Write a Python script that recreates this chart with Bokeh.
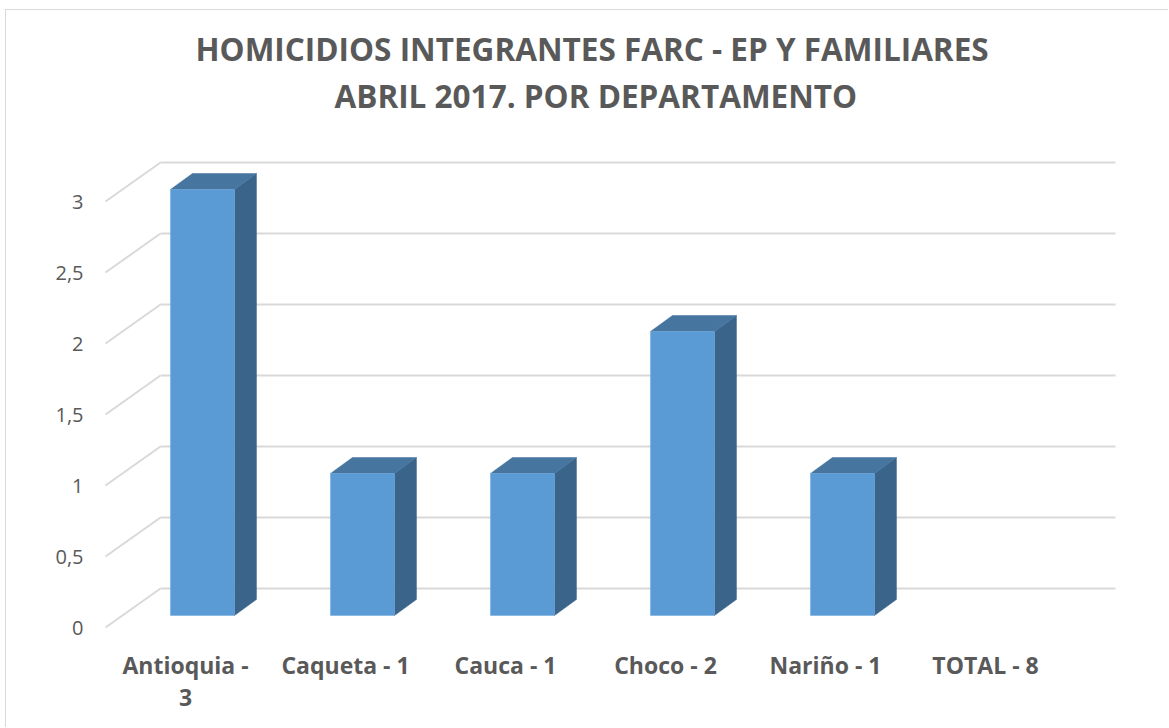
from bokeh.plotting import figure
from bokeh.models import FixedTicker, Title, ColumnDataSource
from bokeh.embed import file_html
from bokeh.resources import INLINE

# ---------------- data ----------------
categories = ["Antioquia - 3", "Caqueta - 1", "Cauca - 1", "Choco - 2", "Nariño - 1", "TOTAL - 8"]
category_labels = ["Antioquia -\n3", "Caqueta - 1", "Cauca - 1", "Choco - 2", "Nariño - 1", "TOTAL - 8"]
values = [3, 1, 1, 2, 1, 0]
y_ticks = [0, 0.5, 1, 1.5, 2, 2.5, 3]
y_tick_labels = ["0", "0,5", "1", "1,5", "2", "2,5", "3"]
title_line1 = "HOMICIDIOS INTEGRANTES FARC - EP Y FAMILIARES"
title_line2 = "ABRIL 2017. POR DEPARTAMENTO"

# ---------------- styling / geometry constants ----------------
TEXT = "#595959"
GRID = "#d9d9d9"
FRONT = "#5B9BD5"
SIDE = "#3A6489"
TOP = "#4675A0"
FONT = "Open Sans"

W, H = 1163, 718
xs, xe = -0.5625, 5.90625
ys, ye = -0.0915, 3.4296

wall_dx, wall_dy = 0.34375, 0.2746     # depth of the side / back walls
wall_left = -0.5
wall_right_back = 5.8125
bar_off_x, bar_off_y = 0.106, 0.0845   # bar front plane
bar_w = 0.4
bar_dx, bar_dy = 0.1375, 0.1127        # bar depth

p = figure(width=W, height=H, x_range=(xs, xe), y_range=(ys, ye),
           output_backend="svg", toolbar_location=None, title=None,
           min_border_left=89, min_border_right=39, min_border_top=130, min_border_bottom=88,
           background_fill_color="white", border_fill_color="white",
           outline_line_color=None,
           styles={"border-top": "1px solid #d9d9d9", "border-left": "1px solid #d9d9d9",
                   "margin-left": "5px", "margin-top": "9px"})
p.xgrid.visible = False
p.ygrid.visible = False

# ---------------- walls / gridlines ----------------
diag = dict(x0=[wall_left] * len(y_ticks), y0=list(y_ticks),
            x1=[wall_left + wall_dx] * len(y_ticks), y1=[v + wall_dy for v in y_ticks])
p.segment(x0="x0", y0="y0", x1="x1", y1="y1", source=ColumnDataSource(diag),
          line_color=GRID, line_width=2)
back = dict(x0=[wall_left + wall_dx] * len(y_ticks), y0=[v + wall_dy for v in y_ticks],
            x1=[wall_right_back] * len(y_ticks), y1=[v + wall_dy for v in y_ticks])
p.segment(x0="x0", y0="y0", x1="x1", y1="y1", source=ColumnDataSource(back),
          line_color=GRID, line_width=2)

# ---------------- 3D bars ----------------
idx = [i for i, v in enumerate(values) if v > 0]
L = [i + bar_off_x - bar_w / 2 for i in idx]
R = [i + bar_off_x + bar_w / 2 for i in idx]
B = [bar_off_y for i in idx]
T = [values[i] + bar_off_y for i in idx]

side_xs = [[r, r + bar_dx, r + bar_dx, r] for r in R]
side_ys = [[b, b + bar_dy, t + bar_dy, t] for b, t in zip(B, T)]
p.patches(side_xs, side_ys, fill_color=SIDE, line_color=SIDE, line_width=0.5)

top_xs = [[l, l + bar_dx, r + bar_dx, r] for l, r in zip(L, R)]
top_ys = [[t, t + bar_dy, t + bar_dy, t] for t in T]
p.patches(top_xs, top_ys, fill_color=TOP, line_color=TOP, line_width=0.5)

p.quad(left=L, right=R, bottom=B, top=T, fill_color=FRONT, line_color="#6FA8DC", line_width=0.5)

# ---------------- axes ----------------
xa = p.xaxis[0]
xa.ticker = FixedTicker(ticks=list(range(len(categories))))
xa.major_label_overrides = {i: lab for i, lab in enumerate(category_labels)}
xa.axis_line_color = None
xa.major_tick_line_color = None
xa.minor_tick_line_color = None
xa.major_tick_out = 0
xa.major_tick_in = 0
xa.major_label_standoff = 8
xa.major_label_text_font = FONT
xa.major_label_text_font_style = "bold"
xa.major_label_text_font_size = "23px"
xa.major_label_text_color = TEXT
xa.major_label_text_line_height = 1.0

ya = p.yaxis[0]
ya.ticker = FixedTicker(ticks=y_ticks)
ya.major_label_overrides = {v: lab for v, lab in zip(y_ticks, y_tick_labels)}
ya.axis_line_color = None
ya.major_tick_line_color = None
ya.minor_tick_line_color = None
ya.major_tick_out = 0
ya.major_tick_in = 0
ya.major_label_standoff = 12
ya.major_label_text_font = FONT
ya.major_label_text_font_size = "20px"
ya.major_label_text_color = TEXT

# ---------------- titles ----------------
p.add_layout(Title(text=title_line2, align="left", offset=239, standoff=48,
                   text_font=FONT, text_font_style="bold", text_font_size="31.5px",
                   text_color=TEXT), "above")
p.add_layout(Title(text=title_line1, align="left", offset=100, standoff=-45,
                   text_font=FONT, text_font_style="bold", text_font_size="31.5px",
                   text_color=TEXT), "above")

open("out.html", "w").write(file_html(p, INLINE))
